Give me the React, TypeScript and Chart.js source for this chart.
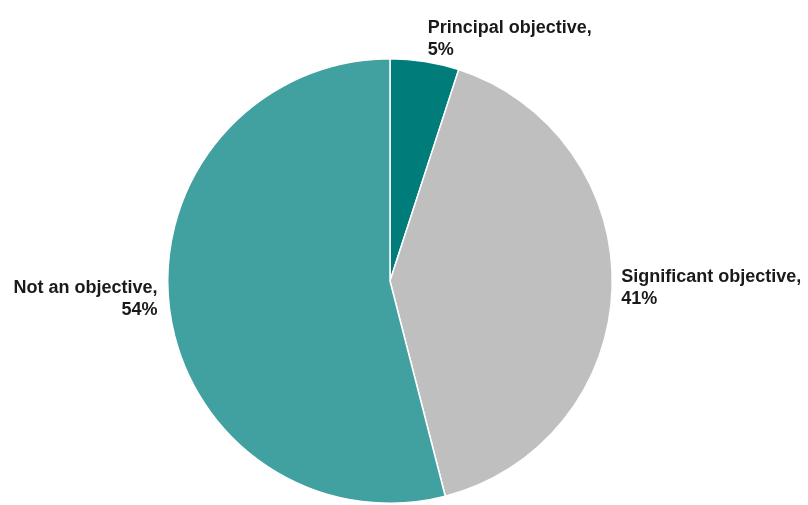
import React, { useEffect, useRef } from "react";
import { Chart, registerables } from "chart.js";

Chart.register(...registerables);

const categories = ["Principal objective", "Significant objective", "Not an objective"];
const shares = [5, 41, 54];
const sliceColors = ["#007C7A", "#BFBFBF", "#41A0A0"];

const labelPlugin = {
  id: "sliceLabels",
  afterDraw(chart: any, _args: any, opts: any) {
    const ctx = chart.ctx;
    const meta = chart.getDatasetMeta(0);
    const offsets = opts.offsets || [];
    ctx.save();
    ctx.font = "bold 18px 'Liberation Sans', Arial, sans-serif";
    ctx.fillStyle = "#1a1a1a";
    ctx.textBaseline = "middle";
    meta.data.forEach((arc: any, i: number) => {
      const { x, y, startAngle, endAngle, outerRadius } = arc.getProps(
        ["x", "y", "startAngle", "endAngle", "outerRadius"],
        true
      );
      const mid = (startAngle + endAngle) / 2;
      const r = outerRadius + 12;
      const ax = x + Math.cos(mid) * r;
      const ay = y + Math.sin(mid) * r;
      const off = offsets[i] || [0, 0];
      const lines = [categories[i] + ",", shares[i] + "%"];
      const left = Math.cos(mid) >= 0;
      ctx.textAlign = left ? "left" : "right";
      const lh = 22;
      const top = ay + off[1] - (lh * (lines.length - 1)) / 2;
      lines.forEach((t, k) => {
        ctx.fillText(t, ax + off[0], top + k * lh);
      });
    });
    ctx.restore();
  },
};

export default function App() {
  const ref = useRef<HTMLCanvasElement>(null);
  useEffect(() => {
    document.body.style.margin = "0";
    const chart = new Chart(ref.current!, {
      type: "pie",
      data: {
        labels: categories,
        datasets: [
          {
            data: shares,
            backgroundColor: sliceColors,
            borderColor: "#ffffff",
            borderWidth: 1.5,
          },
        ],
      },
      options: {
        animation: false,
        responsive: false,
        layout: { padding: { top: 58, bottom: 1, left: 0, right: 28 } },
        plugins: {
          legend: { display: false },
          tooltip: { enabled: false },
          sliceLabels: { offsets: [[1, -11], [-3, 0], [0, -11]] },
        } as any,
      },
      plugins: [labelPlugin],
    });
    return () => chart.destroy();
  }, []);
  return (
    <div style={{ width: 808, height: 505, background: "#fff" }}>
      <canvas ref={ref} width={808} height={505} />
    </div>
  );
}
